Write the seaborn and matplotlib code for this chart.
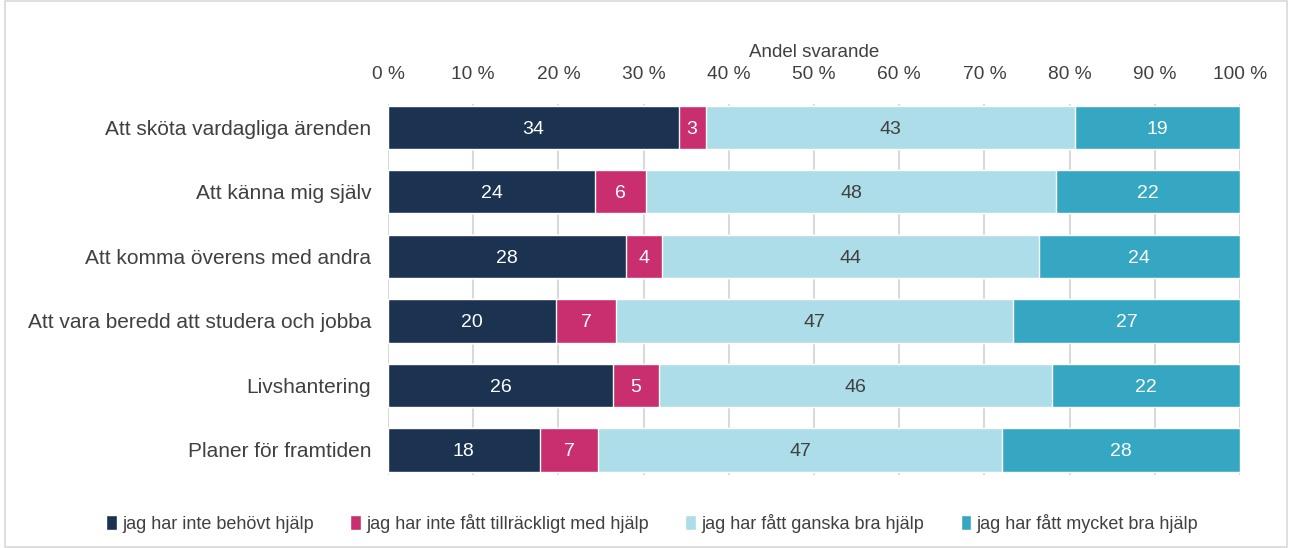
import numpy as np
import pandas as pd
import matplotlib.pyplot as plt
import seaborn as sns
from matplotlib.patches import Rectangle

categories = [
    "Att sköta vardagliga ärenden",
    "Att känna mig själv",
    "Att komma överens med andra",
    "Att vara beredd att studera och jobba",
    "Livshantering",
    "Planer för framtiden",
]
series_names = [
    "jag har inte behövt hjälp",
    "jag har inte fått tillräckligt med hjälp",
    "jag har fått ganska bra hjälp",
    "jag har fått mycket bra hjälp",
]
not_needed = [34.1, 24.3, 27.9, 19.7, 26.4, 17.8]
not_enough = [3.2, 6.0, 4.3, 7.1, 5.4, 6.9]
fairly_good = [43.3, 48.1, 44.2, 46.6, 46.1, 47.4]
very_good = [19.4, 21.6, 23.6, 26.6, 22.1, 27.9]

colors = ["#1B3350", "#C92E6F", "#ADDDE8", "#35A7C2"]
label_colors = ["white", "white", "#404040", "white"]

sns.set_theme(style="white")
plt.rcParams["font.family"] = ["Liberation Sans", "DejaVu Sans"]

df = pd.DataFrame(
    {
        "kategori": categories,
        series_names[0]: not_needed,
        series_names[1]: not_enough,
        series_names[2]: fairly_good,
        series_names[3]: very_good,
    }
)
cum = df[series_names].cumsum(axis=1)

fig = plt.figure(figsize=(12.92, 5.48), dpi=100)
ax = fig.add_axes([0.3003, 0.133, 0.6594, 0.677])

# draw stacked bars back to front: each layer as cumulative width
for i in reversed(range(len(series_names))):
    sns.barplot(
        x=cum[series_names[i]],
        y=df["kategori"],
        orient="h",
        color=colors[i],
        width=0.67,
        saturation=1,
        ax=ax,
        label=series_names[i],
        zorder=3,
    )

for i, name in enumerate(series_names):
    for j, v in enumerate(df[name]):
        ax.text(
            cum[name][j] - v / 2, j, f"{v:.0f}",
            ha="center", va="center_baseline", color=label_colors[i],
            fontsize=14, zorder=5,
        )

ax.set_xlim(0, 100)
ax.set_ylim(5.39, -0.36)
ax.set_xticks(np.arange(0, 101, 10))
ax.set_xticklabels([f"{t} %" for t in range(0, 101, 10)], fontsize=13.8, color="#404040")
ax.xaxis.tick_top()
ax.xaxis.set_label_position("top")
ax.set_xlabel("Andel svarande", fontsize=13.5, color="#404040", labelpad=7)
ax.set_ylabel("")
ax.tick_params(axis="y", labelsize=15, colors="#404040", length=0, pad=12)
ax.tick_params(axis="x", length=0, pad=15)
ax.grid(axis="x", color="#D9D9D9", linewidth=1.5, zorder=0)
ax.set_axisbelow(True)
for s in ax.spines.values():
    s.set_visible(False)

handles, labels = ax.get_legend_handles_labels()
if ax.get_legend() is not None:
    ax.get_legend().remove()
order = [labels.index(n) for n in series_names]
fig.legend(
    [handles[k] for k in order], [labels[k] for k in order],
    loc="center", bbox_to_anchor=(0.505, 0.045), ncol=4, frameon=False,
    fontsize=13, handlelength=0.6, handleheight=0.9, handletextpad=0.3,
    columnspacing=2.0, labelcolor="#404040",
)

fig.patches.append(
    Rectangle((0.004, 0.002), 0.992, 0.996, transform=fig.transFigure,
              fill=False, edgecolor="#D9D9D9", linewidth=1.2)
)

fig.savefig("out.png", dpi=100)
